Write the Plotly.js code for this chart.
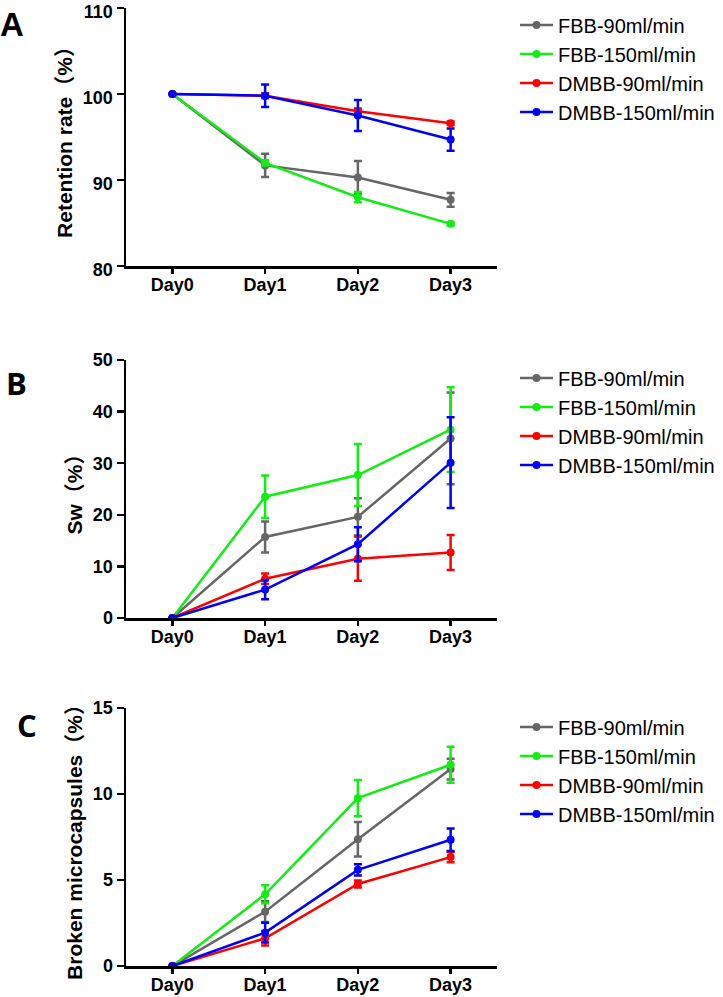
<!DOCTYPE html>
<html>
<head>
<meta charset="utf-8">
<script src="https://cdn.plot.ly/plotly-3.0.1.min.js"></script>
<style>html,body{margin:0;padding:0;background:#fff;}#chart{width:723px;height:997px;}</style>
</head>
<body>
<div id="chart"></div>
<script>
const days = ['Day0', 'Day1', 'Day2', 'Day3'];
const seriesNames = ['FBB-90ml/min', 'FBB-150ml/min', 'DMBB-90ml/min', 'DMBB-150ml/min'];
const seriesColors = ['#666666', '#11ee11', '#ff0000', '#0000ff'];

// Panel A: Retention rate (%)
const fbb90A = [100, 91.7, 90.3, 87.7];
const fbb90AErr = [0, 1.35, 1.9, 0.8];
const fbb150A = [100, 92.0, 88.0, 84.9];
const fbb150AErr = [0, 0.3, 0.6, 0.2];
const dmbb90A = [100, 99.8, 98.0, 96.6];
const dmbb90AErr = [0, 0.3, 0.3, 0.2];
const dmbb150A = [100, 99.8, 97.5, 94.7];
const dmbb150AErr = [0, 1.3, 1.8, 1.3];

// Panel B: Sw (%)
const fbb90B = [0, 15.7, 19.6, 34.8];
const fbb90BErr = [0, 3.0, 3.6, 8.9];
const fbb150B = [0, 23.5, 27.7, 36.5];
const fbb150BErr = [0, 4.1, 6.0, 8.2];
const dmbb90B = [0, 7.6, 11.5, 12.7];
const dmbb90BErr = [0, 1.0, 4.3, 3.4];
const dmbb150B = [0, 5.5, 14.3, 30.1];
const dmbb150BErr = [0, 1.85, 3.3, 8.8];

// Panel C: Broken microcapsules (%)
const fbb90C = [0, 3.16, 7.37, 11.45];
const fbb90CErr = [0, 0.6, 1.0, 0.6];
const fbb150C = [0, 4.17, 9.76, 11.7];
const fbb150CErr = [0, 0.52, 1.06, 1.05];
const dmbb90C = [0, 1.61, 4.77, 6.33];
const dmbb90CErr = [0, 0.42, 0.2, 0.3];
const dmbb150C = [0, 1.94, 5.59, 7.34];
const dmbb150CErr = [0, 0.58, 0.33, 0.65];

const panels = [
  {vals: [fbb90A, fbb150A, dmbb90A, dmbb150A], errs: [fbb90AErr, fbb150AErr, dmbb90AErr, dmbb150AErr], xa: 'x', ya: 'y', lg: 'legend'},
  {vals: [fbb90B, fbb150B, dmbb90B, dmbb150B], errs: [fbb90BErr, fbb150BErr, dmbb90BErr, dmbb150BErr], xa: 'x2', ya: 'y2', lg: 'legend2'},
  {vals: [fbb90C, fbb150C, dmbb90C, dmbb150C], errs: [fbb90CErr, fbb150CErr, dmbb90CErr, dmbb150CErr], xa: 'x3', ya: 'y3', lg: 'legend3'}
];

const traces = [];
panels.forEach(p => {
  for (let i = 0; i < 4; i++) {
    traces.push({
      type: 'scatter', mode: 'lines+markers',
      x: days, y: p.vals[i], name: seriesNames[i],
      xaxis: p.xa, yaxis: p.ya, legend: p.lg,
      line: {color: seriesColors[i], width: 2.5},
      marker: {color: seriesColors[i], size: 8, symbol: 'circle'},
      error_y: {type: 'data', array: p.errs[i], visible: true, color: seriesColors[i], thickness: 2.5, width: 4}
    });
  }
});

const W = 723, H = 997;
const FAM = '"Liberation Sans", Arial, "Noto Sans CJK SC", sans-serif';
const tickFont = {family: FAM, size: 18, color: '#000', weight: 'bold'};
const titleFont = {family: FAM, size: 21, color: '#000', weight: 'bold'};
const legFont = {family: FAM, size: 20, color: '#000'};

function xax(anchor) {
  return {
    domain: [126 / W, 497 / W], anchor: anchor, type: 'category', range: [-0.5, 3.5],
    showline: true, linecolor: '#000', linewidth: 2.5, ticks: 'outside', ticklen: 5, tickwidth: 2.5, tickcolor: '#000',
    ticklabelstandoff: -4,
    showgrid: false, zeroline: false, tickfont: tickFont, fixedrange: true
  };
}
function yax(anchor, top, bottom, range, dtick, title, shift) {
  return {
    domain: [1 - bottom / H, 1 - top / H], anchor: anchor, range: range, dtick: dtick,
    showline: true, linecolor: '#000', linewidth: 2.5, ticks: 'outside', ticklen: 7, tickwidth: 2.5, tickcolor: '#000',
    ticklabeloverflow: 'allow', ticklabelshift: shift,
    showgrid: false, zeroline: false, tickfont: tickFont,
    title: {text: title, font: titleFont, standoff: 5}
  };
}
function leg(top) {
  return {x: 515 / W, y: 1 - top / H, xanchor: 'left', yanchor: 'top', font: legFont, bgcolor: 'rgba(0,0,0,0)',
          tracegroupgap: 0, itemwidth: 33};
}

const layout = {
  width: W, height: H,
  margin: {l: 0, r: 0, t: 0, b: 0},
  paper_bgcolor: '#fff', plot_bgcolor: '#fff',
  showlegend: true,
  xaxis: xax('y'), xaxis2: xax('y2'), xaxis3: xax('y3'),
  yaxis: yax('x', 8, 266, [80, 110], 10, 'Retention rate（%）', 4),
  yaxis2: yax('x2', 360, 618, [0, 50], 10, 'Sw（%）', 0),
  yaxis3: yax('x3', 708, 966, [0, 15], 5, 'Broken microcapsules（%）', 0),
  legend: leg(5.5), legend2: leg(358.5), legend3: leg(707.5),
  annotations: [
    {text: 'A', xref: 'paper', yref: 'paper', x: -2 / W, y: 1 - 4 / H, xanchor: 'left', yanchor: 'top', showarrow: false,
     font: {family: FAM, size: 33, weight: 'bold', color: '#000'}},
    {text: 'B', xref: 'paper', yref: 'paper', x: 4 / W, y: 1 - 360 / H, xanchor: 'left', yanchor: 'top', showarrow: false,
     font: {family: 'Open Sans, sans-serif', size: 31, weight: 'bold', color: '#000'}},
    {text: 'C', xref: 'paper', yref: 'paper', x: 15 / W, y: 1 - 702 / H, xanchor: 'left', yanchor: 'top', showarrow: false,
     font: {family: 'Open Sans, sans-serif', size: 31, weight: 'bold', color: '#000'}}
  ]
};

Plotly.newPlot('chart', traces, layout, {displayModeBar: false, staticPlot: true});
</script>
</body>
</html>
